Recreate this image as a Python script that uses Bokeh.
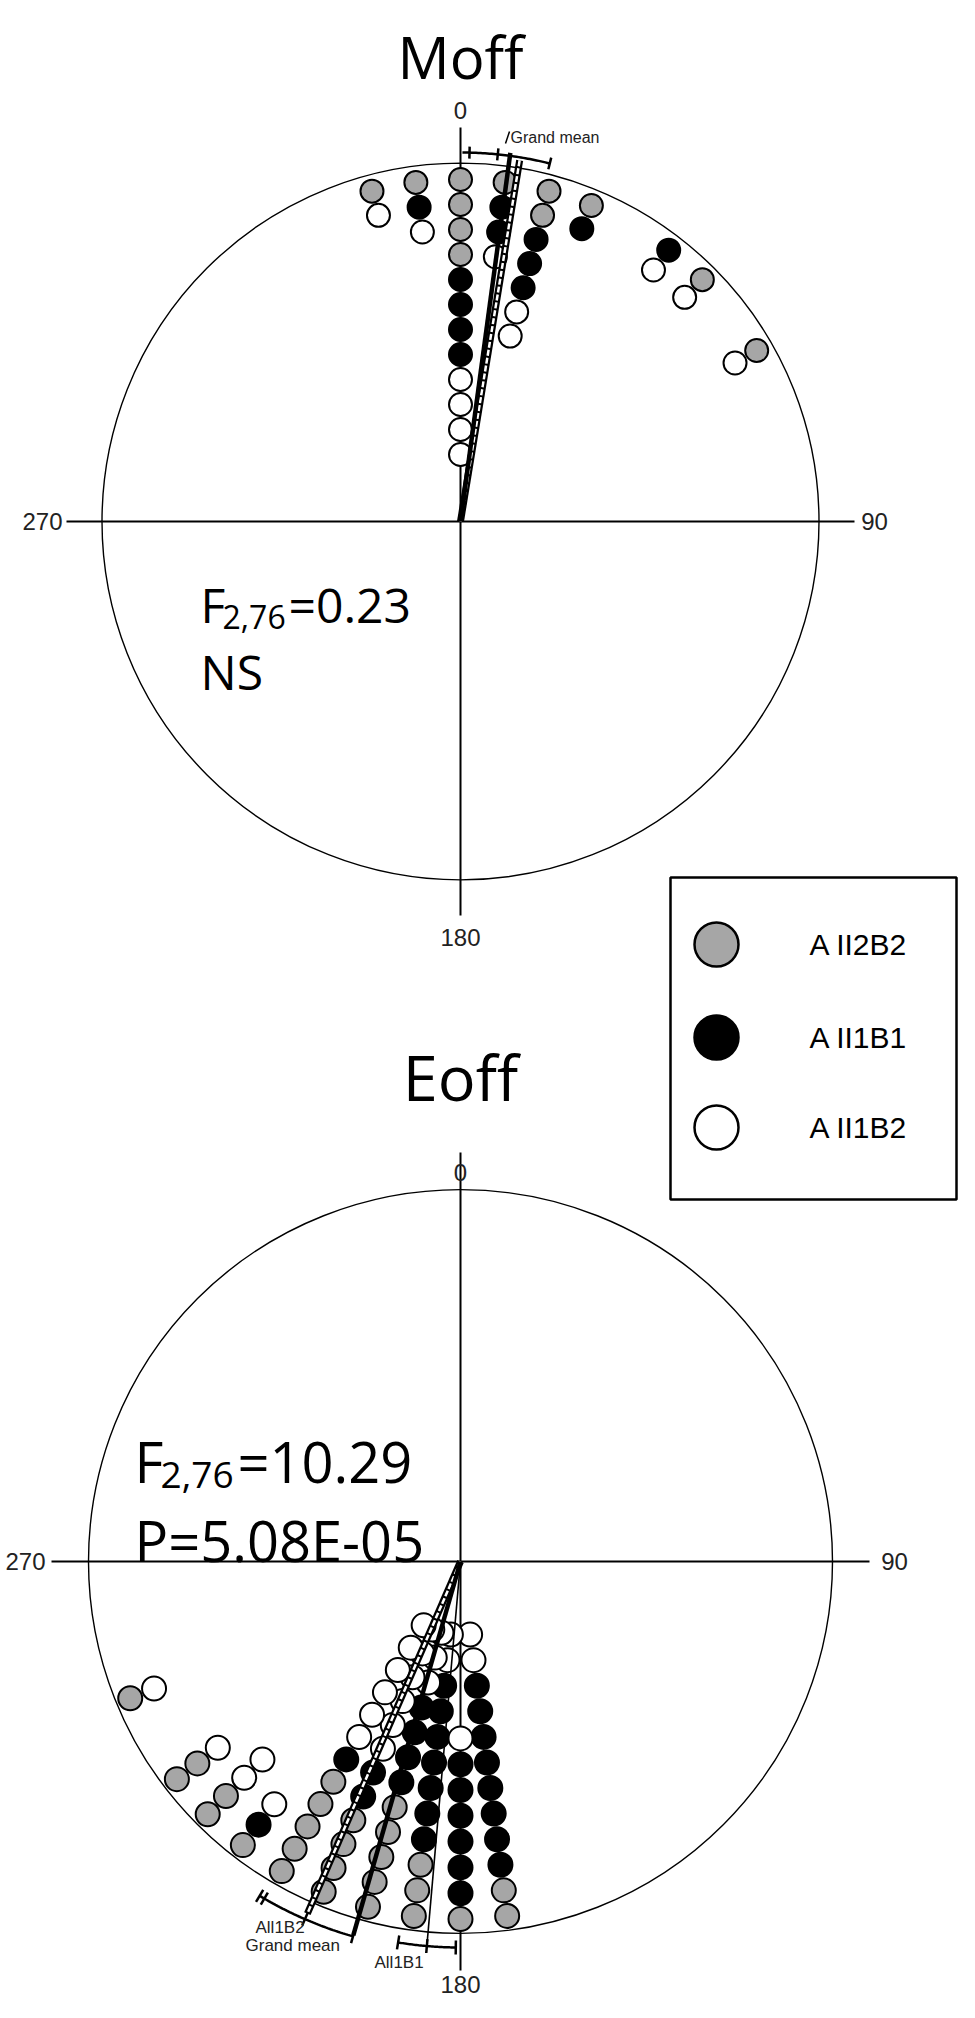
import numpy as np

from bokeh.plotting import figure
from bokeh.models import Range1d, ColumnDataSource
from bokeh.core.properties import value
from bokeh.embed import file_html
from bokeh.resources import INLINE

#-------------- data ----------------#
groups = ["A II2B2", "A II1B1", "A II1B2"]
group_fill = ["#a6a6a6", "black", "white"]

# Moff : bin angle (deg, clockwise from 0) and number of dots per group.
# dots are stacked from the rim inwards: AII2B2, then AII1B1, then AII1B2
moff_angles = [345, 352.5, 0, 7.5, 15, 22.5, 37.5, 45, 60]
moff_all2b2 = [1, 1, 4, 1, 2, 1, 0, 1, 1]
moff_all1b1 = [0, 1, 4, 2, 3, 1, 1, 0, 0]
moff_all1b2 = [1, 1, 4, 1, 2, 0, 1, 1, 1]
moff_mean_solid = 7.7        # solid mean vector
moff_mean_open = 9.3         # open mean vector
moff_ci = [0.3, 14.0]        # confidence arc
moff_ci_ticks = [1.4, 5.8, 14.0]
moff_f = ["F", "2,76", "=0.23"]
moff_p = "NS"

# Eoff
eoff_angles = [172.5, 180, 187.5, 195, 202.5, 210, 217.5, 225, 232.5, 247.5]
eoff_all2b2 = [2, 1, 3, 5, 4, 5, 1, 2, 2, 1]
eoff_all1b1 = [8, 6, 7, 4, 2, 1, 1, 0, 0, 0]
eoff_all1b2 = [2, 1, 2, 3, 6, 6, 1, 2, 1, 1]
eoff_mean_all1b1 = 185.0
eoff_mean_grand = 196.0
eoff_mean_all1b2 = 203.5
eoff_ci_all1b1 = [180.7, 189.3]
eoff_ci_grand = [196.0, 211.0]
eoff_f = ["F", "2,76", "=10.29"]
eoff_p = "P=5.08E-05"

compass = ["0", "90", "180", "270"]
#------------------------------------#


def pol(cx, cy, r, deg):
    # compass angle -> page coords (y grows downwards)
    t = np.radians(np.asarray(deg, dtype=float))
    return cx + np.asarray(r) * np.sin(t), cy - np.asarray(r) * np.cos(t)


p = figure(width=959, height=2002, x_range=Range1d(8, 967), y_range=Range1d(2010, 8),
           x_axis_type=None, y_axis_type=None, output_backend="svg",
           toolbar_location=None, min_border=0)
p.grid.visible = False
p.outline_line_color = None
p.background_fill_color = "white"

SANS = value("Open Sans")
ARIAL = value("Liberation Sans")


def frame(cx, cy, R, ext, lab_off, title, title_y, title_size):
    p.circle(x=[cx], y=[cy], radius=R, fill_color=None, line_color="black", line_width=1.4)
    p.segment(x0=[cx - ext, cx], y0=[cy, cy - ext], x1=[cx + ext, cx], y1=[cy, cy + ext],
              line_color="black", line_width=2)
    lx, ly = pol(cx, cy, [ext + lab_off[0], ext + lab_off[1], ext + lab_off[2], ext + lab_off[3]],
                 [0, 90, 180, 270])
    p.text(x=lx, y=ly, text=compass, text_align="center", text_baseline="middle",
           text_font=ARIAL, text_font_size="24px", text_color="#222222")
    p.text(x=[cx], y=[title_y], text=[title], text_align="center", text_baseline="alphabetic",
           text_font=SANS, text_font_size=title_size, text_color="black")


def dots(cx, cy, R, off, step, size, angles, counts):
    used = np.zeros(len(angles), dtype=int)
    for name, fill, cnt in zip(groups, group_fill, counts):
        xs, ys = [], []
        for i, (a, n) in enumerate(zip(angles, cnt)):
            for k in range(n):
                x, y = pol(cx, cy, R - off - (used[i] + k) * step, a)
                xs.append(float(x))
                ys.append(float(y))
            used[i] += n
        src = ColumnDataSource(dict(x=xs, y=ys))
        p.scatter("x", "y", source=src, size=size, fill_color=fill, line_color="black",
                  line_width=2)


def mean_line(cx, cy, length, a, kind):
    x, y = pol(cx, cy, [0, length], [a, a])
    if kind == "solid":
        p.line(x, y, line_color="black", line_width=4.5)
    elif kind == "thin":
        p.line(x, y, line_color="black", line_width=1.6)
    else:
        p.line(x, y, line_color="black", line_width=7)
        p.line(x, y, line_color="white", line_width=2.5, line_dash="6 2")


def ci_arc(cx, cy, r, lo, hi, ticks, tick_len=7):
    aa = np.linspace(lo, hi, 40)
    x, y = pol(cx, cy, r, aa)
    p.line(x, y, line_color="black", line_width=2.5)
    tx0, ty0 = pol(cx, cy, r - tick_len, ticks)
    tx1, ty1 = pol(cx, cy, r + tick_len, ticks)
    p.segment(x0=tx0, y0=ty0, x1=tx1, y1=ty1, line_color="black", line_width=2.5)


#------------- Moff ------------------#
mcx, mcy, mR = 468, 529, 358.5
frame(mcx, mcy, mR, 394, [17, 20, 22, 24], "Moff", 64, "58px")
dots(mcx, mcy, mR, 16.5, 25, 23, moff_angles, [moff_all2b2, moff_all1b1, moff_all1b2])
mean_line(mcx, mcy, 366, moff_mean_open, "open")
mean_line(mcx, mcy, 372, moff_mean_solid, "solid")
ci_arc(mcx, mcy, 369, moff_ci[0], moff_ci[1], moff_ci_ticks, 6)
p.segment(x0=[513], y0=[151], x1=[517], y1=[139], line_color="black", line_width=1.5)
p.text(x=[518], y=[145], text=["Grand mean"], text_align="left", text_baseline="middle",
       text_font=ARIAL, text_font_size="16px", text_color="#222222")
p.text(x=[208, 230, 296], y=[612, 624, 612], text=moff_f, text_align="left",
       text_baseline="alphabetic", text_font=SANS,
       text_font_size=["48px", "32px", "48px"], text_color="black")
p.text(x=[208], y=[679], text=[moff_p], text_align="left", text_baseline="alphabetic",
       text_font=SANS, text_font_size="48px", text_color="black")

#------------- Eoff ------------------#
ecx, ecy, eR = 468, 1569, 372
frame(ecx, ecy, eR, 409, [-20, 25, 14, 26], "Eoff", 1084, "63px")
dots(ecx, ecy, eR, 14.5, 25.8, 24, eoff_angles, [eoff_all2b2, eoff_all1b1, eoff_all1b2])
mean_line(ecx, ecy, 382, eoff_mean_all1b1, "thin")
mean_line(ecx, ecy, 384, eoff_mean_all1b2, "open")
mean_line(ecx, ecy, 389, eoff_mean_grand, "solid")
ci_arc(ecx, ecy, 386, eoff_ci_all1b1[0], eoff_ci_all1b1[1],
       [eoff_ci_all1b1[0], eoff_mean_all1b1, eoff_ci_all1b1[1]], 7)
ci_arc(ecx, ecy, 390, eoff_ci_grand[0], eoff_ci_grand[1],
       [eoff_ci_grand[0], eoff_mean_all1b2, eoff_ci_grand[1], eoff_ci_grand[1] - 0.8], 7)
p.text(x=[263, 253, 382], y=[1935, 1953, 1970], text=["All1B2", "Grand mean", "All1B1"],
       text_align="left", text_baseline="middle", text_font=ARIAL, text_font_size="17px",
       text_color="#222222")
p.text(x=[142, 168, 245], y=[1468, 1482, 1468], text=eoff_f, text_align="left",
       text_baseline="alphabetic", text_font=SANS,
       text_font_size=["56px", "37px", "56px"], text_color="black")
p.text(x=[142], y=[1547], text=[eoff_p], text_align="left", text_baseline="alphabetic",
       text_font=SANS, text_font_size="56px", text_color="black")

#------------- legend ----------------#
p.quad(left=[678], right=[964], top=[885], bottom=[1207], fill_color="white",
       line_color="black", line_width=2.5)
leg_y = [952, 1045, 1135]
p.scatter(x=[724] * 3, y=leg_y, size=44, fill_color=group_fill, line_color="black",
          line_width=2.5)
p.text(x=[817] * 3, y=leg_y, text=groups, text_align="left", text_baseline="middle",
       text_font=ARIAL, text_font_size="30px", text_color="black")

open("out.html", "w").write(file_html(p, INLINE))
